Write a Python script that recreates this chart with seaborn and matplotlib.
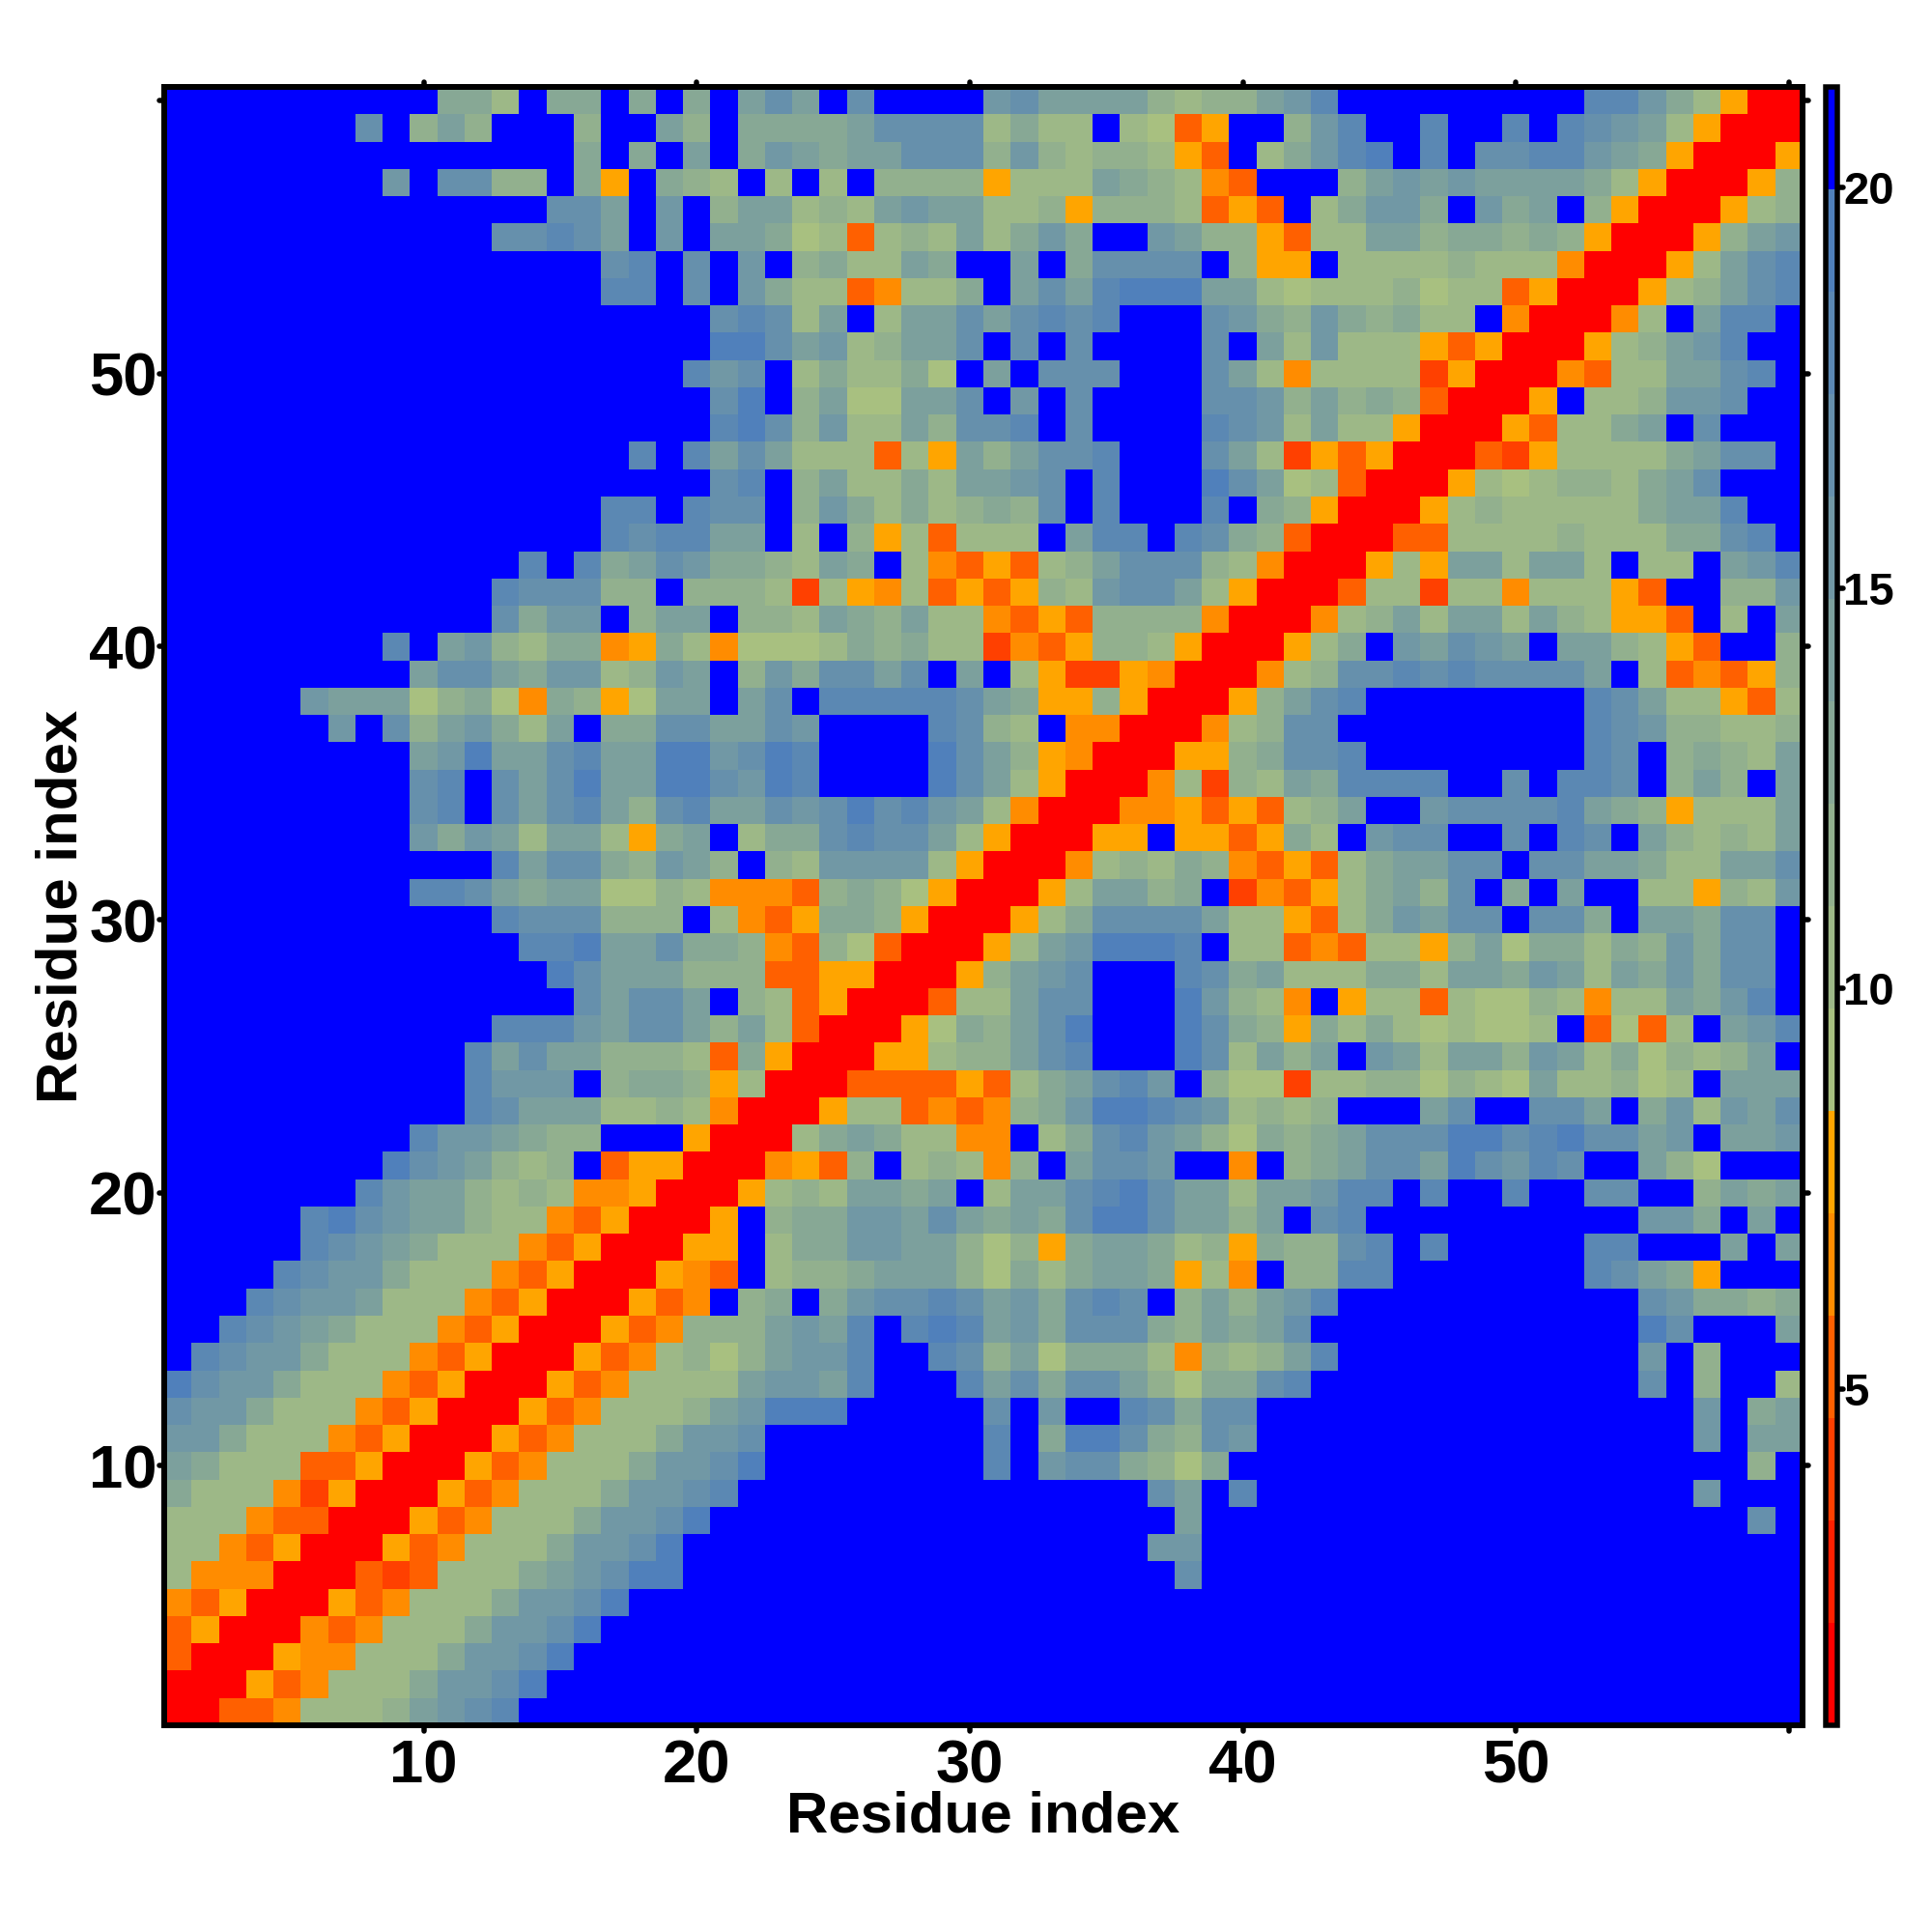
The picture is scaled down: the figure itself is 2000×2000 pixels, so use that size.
import numpy as np
import pandas as pd
import seaborn as sns
import matplotlib
matplotlib.use("Agg")
import matplotlib.pyplot as plt
from matplotlib.colors import ListedColormap
from matplotlib.markers import MarkerStyle, TICKDOWN, TICKUP, TICKLEFT, TICKRIGHT

residues = list(range(1, 61))
tick_positions = [10, 20, 30, 40, 50, 60]
tick_labels = ["10", "20", "30", "40", "50", ""]
cbar_ticks = [5, 10, 15, 20]

# binned distance level per cell (hex digit, 0 = closest, f = farthest); top line = residue 60
level_rows = [
"ffffffffff" "997f99f9f9" "facafcffff" "bcaaaa8788" "abdfffffff" "ffddb97500",
"fffffffcf8" "a8fff8ffa8" "f9999acccc" "7977f7635f" "f8bdffdffd" "fdcba75000",
"ffffffffff" "fffff9f9fa" "f9ba9aaccc" "8b8788753f" "79bdefdfcc" "ddba950005",
"ffffffffbf" "cc88f95f98" "7f7f7f8888" "5777a98743" "fff8ababaa" "aa97500058",
"ffffffffff" "ffffccafbf" "8aa787abaa" "7785888735" "3f79bb9fb9" "af85000578",
"ffffffffff" "ffccdcafbf" "aa9673787a" "79b9ffba88" "5377aa8998" "98500058ab",
"ffffffffff" "ffffffcdfc" "fbf8977a9f" "faf9ccccf8" "55f7777877" "7400057acd",
"ffffffffff" "ffffffddfc" "fb97734779" "facadeeeaa" "7677786773" "5000578acd",
"ffffffffff" "ffffffffff" "cdc7af7aac" "acdcdfffcb" "98b98977f4" "00047faddf",
"ffffffffff" "ffffffffff" "eecab78aac" "fcfcffffcf" "a7b7775350" "00578abdff",
"ffffffffff" "fffffffffd" "bcf797796f" "afcccfffca" "7477772500" "04377aacdf",
"ffffffffff" "ffffffffff" "cef8a66aac" "fbfcffffcc" "b8a8983000" "5f778bbcff",
"ffffffffff" "ffffffffff" "dec8b77a8c" "cdfcffffdc" "b7a7750005" "3779afcfff",
"ffffffffff" "fffffffdfd" "aca777375a" "8accdfffca" "7253500032" "577779accf",
"ffffffffff" "ffffffffff" "cdf8a7797a" "abcfdfffec" "a673000576" "78879acfff",
"ffffffffff" "ffffffddfd" "ccf8b97978" "98cfdfffdf" "9850005787" "77779aadff",
"ffffffffff" "ffffffdcdd" "aaf7f85737" "77faddfdc9" "8300033777" "7877799cdf",
"ffffffffff" "fffdfd9acb" "9987a9f743" "5378accc87" "4000575aa7" "aa7f77fabd",
"ffffffffff" "ffdccc88f8" "8872754735" "3587bcca75" "0003772774" "77753ff88b",
"ffffffffff" "ffc9bbf8aa" "f887a98a77" "4353888840" "00478a7aa7" "a87553f7fa",
"ffffffffdf" "ab87994597" "4666798977" "2435887500" "0579fbacba" "faa8753ff8",
"fffffffffa" "cca9bb78ba" "f8b9ccacfa" "f752254000" "478ccdcdcc" "ccaf734358",
"fffffbaaa6" "89649856aa" "facfdddddc" "a955850005" "8acdffffff" "ffdca77537",
"ffffffbfc8" "ab97af99cc" "aacbffffdc" "87f4400047" "8ccfffffff" "ffdcb88778",
"fffffffffa" "beaacdaaee" "bcedffffec" "a854000558" "9ccdffffff" "ffdcf8987a",
"fffffffffc" "dfcaceaaee" "cbedffffec" "a750004728" "7a9ddddffc" "fddcf8a8fa",
"fffffffffc" "dfcacda8cd" "aacbcecdba" "7400044535" "378affbccc" "cda985777a",
"fffffffffb" "9ba7aa759a" "f799cdcca7" "500055f553" "597fbccffc" "fdcfa8787a",
"ffffffffff" "ffdacc98ba" "8f87bbbb75" "0004787984" "35379aaccf" "ccaa977aac",
"fffffffffd" "dca9aa6687" "4443898650" "0057aa89f2" "43579a8cf9" "faff77587b",
"ffffffffff" "ffdccc888f" "7435998500" "0579cccca7" "75379baccf" "cc9faa9ccf",
"ffffffffff" "fffddeaac9" "9843863000" "57abeeedf7" "73437758a6" "99798b9ccf",
"ffffffffff" "ffffecaaa8" "8833550005" "8abcfffdc9" "a777997aa9" "ba7a9b9ccf",
"ffffffffff" "fffffcacca" "f873500037" "7accfffeb8" "74f5773766" "87477a9bdf",
"ffffffffff" "ffdddbacca" "8a73000569" "8acefffec9" "8597976766" "7f3637fabd",
"ffffffffff" "fdacaa8887" "3950005578" "8acdfffec7" "a8afba7aa8" "ba796878af",
"ffffffffff" "fdbbbf8998" "5700033335" "379acdbf86" "6277886876" "a77867faaa",
"ffffffffff" "fdcaaa7787" "4000577343" "489beedcb7" "878fffacff" "ccaf9b7bac",
"fffffffffd" "bba988fff5" "00079a9774" "4f79cdba86" "989accceec" "deccabfaab",
"ffffffffec" "ba878f3550" "004538f787" "48faccbff4" "f89accaecb" "dcffa86fff",
"fffffffdba" "a878744500" "05787aa9af" "7aacdecaa7" "aabddfdffd" "ffccff8a9a",
"fffffdecba" "a877435000" "5f899bbaca" "9a9ceecaa8" "afcdffffff" "ffffbb9faf",
"fffffdcba9" "7774350005" "5f799bbaa8" "6859aa9785" "988cdfdfff" "ffddfffafa",
"ffffdcbb97" "7743500054" "3f7889aaa8" "6979aa9574" "f88ddfffff" "ffdca95fff",
"fffdcbba77" "7435000534" "f89f9bccdc" "ab9cdcf8a8" "abdfffffff" "ffffcb9989",
"ffdcba9777" "4350005348" "88abadfded" "ab9ccc98a9" "acffffffff" "ffffecfffa",
"fdcbb97774" "3500053478" "68abbdffdc" "8a69997487" "8adfffffff" "ffffbf8fff",
"ecbb977743" "5000534777" "7abbadfffd" "ac9cca8699" "cdffffffff" "ffffcf8ff7",
"cbb9777435" "0005347778" "abeeefffff" "cfbffdc9cc" "ffffffffff" "ffffffbf9a",
"bb97774350" "005347779b" "bcffffffff" "df9eec98cb" "ffffffffff" "ffffffbfaa",
"a977733500" "05347779bb" "ceffffffff" "dfbcc9869f" "ffffffffff" "ffffffff8f",
"9777425000" "5347779bbc" "dfffffffff" "ffffffcafd" "ffffffffff" "ffffffbfff",
"7774330005" "347779bbce" "ffffffffff" "fffffffaff" "ffffffffff" "ffffffffcf",
"7743500053" "47779bbcef" "ffffffffff" "ffffffbbff" "ffffffffff" "ffffffffff",
"7444000323" "7779abceef" "ffffffffff" "fffffffcff" "ffffffffff" "ffffffffff",
"4350005347" "779bbcefff" "ffffffffff" "ffffffffff" "ffffffffff" "ffffffffff",
"3500043477" "79bbceffff" "ffffffffff" "ffffffffff" "ffffffffff" "ffffffffff",
"3000544777" "9bbcefffff" "ffffffffff" "ffffffffff" "ffffffffff" "ffffffffff",
"0005347779" "bbceffffff" "ffffffffff" "ffffffffff" "ffffffffff" "ffffffffff",
"003347778a" "bcdfffffff" "ffffffffff" "ffffffffff" "ffffffffff" "ffffffffff",
]

palette = ["#FF0000", "#FF2000", "#FF4000", "#FF6000", "#FF8C00", "#FFA500",
           "#A8C080", "#9DB887", "#92B08E", "#87A895", "#7CA09D", "#7198A5",
           "#6690AC", "#5B88B3", "#5080BB", "#0000FF"]
dist_min, dist_max = 0.80, 21.26

bin_width = (dist_max - dist_min) / len(palette)
levels = np.array([[int(ch, 16) for ch in row] for row in level_rows])
assert levels.shape == (60, 60)
distances = pd.DataFrame(dist_min + (levels + 0.5) * bin_width,
                         index=residues[::-1], columns=residues)

sns.set_theme(style="white")
plt.rcParams["font.family"] = ["Liberation Sans", "DejaVu Sans"]
plt.rcParams["font.weight"] = "bold"

PX = 72 / 200
fig = plt.figure(figsize=(10, 10), dpi=200, facecolor="white")
ax = fig.add_axes([170 / 2000, 1 - 1786 / 2000, 1696 / 2000, 1696 / 2000])
cax = fig.add_axes([1889.5 / 2000, 1 - 1786 / 2000, 12 / 2000, 1696 / 2000])

sns.heatmap(distances, ax=ax, cbar_ax=cax, cmap=ListedColormap(palette),
            vmin=dist_min, vmax=dist_max, linewidths=0, square=False,
            xticklabels=False, yticklabels=False,
            cbar_kws={"ticks": cbar_ticks, "drawedges": False})


def round_ticks(axis, low, high):
    for tick in axis.get_major_ticks():
        tick.tick1line.set_marker(MarkerStyle(low, capstyle="round"))
        tick.tick2line.set_marker(MarkerStyle(high, capstyle="round"))


ax.set_xticks([residues.index(t) + 0.5 for t in tick_positions], tick_labels)
ax.set_yticks([residues[::-1].index(t) + 0.5 for t in tick_positions], tick_labels, rotation=0)
ax.tick_params(axis="both", which="major", direction="out", length=5.5 * PX, width=5.5 * PX,
               color="black", labelsize=22.8, top=True, right=True, left=True, bottom=True)
ax.tick_params(axis="x", pad=8 * PX)
ax.tick_params(axis="y", pad=2 * PX)
round_ticks(ax.xaxis, TICKDOWN, TICKUP)
round_ticks(ax.yaxis, TICKLEFT, TICKRIGHT)
for lab in ax.get_xticklabels() + ax.get_yticklabels():
    lab.set_fontweight("bold")
    lab.set_color("black")
for side in ax.spines.values():
    side.set_visible(True)
    side.set_linewidth(6 * PX)
    side.set_color("black")

ax.set_xlabel("Residue index", fontsize=21.6, fontweight="bold", color="black")
ax.set_ylabel("Residue index", fontsize=21.6, fontweight="bold", color="black")
ax.xaxis.set_label_coords(0.5, -0.0396)
ax.yaxis.set_label_coords(-0.0460, 0.5)

cbar = ax.collections[0].colorbar
cbar.set_ticks(cbar_ticks, labels=[str(t) for t in cbar_ticks])
cbar.ax.tick_params(axis="y", right=True, left=False, direction="out", length=5.5 * PX,
                    width=5.5 * PX, color="black", labelsize=17, pad=1 * PX, labelcolor="black")
for tick in cbar.ax.yaxis.get_major_ticks():
    tick.tick2line.set_marker(MarkerStyle(TICKRIGHT, capstyle="round"))
for lab in cbar.ax.get_yticklabels():
    lab.set_fontweight("bold")
cbar.outline.set_visible(True)
cbar.outline.set_linewidth(5.5 * PX)
cbar.outline.set_edgecolor("black")

fig.savefig("out.png", dpi=200, facecolor="white")
